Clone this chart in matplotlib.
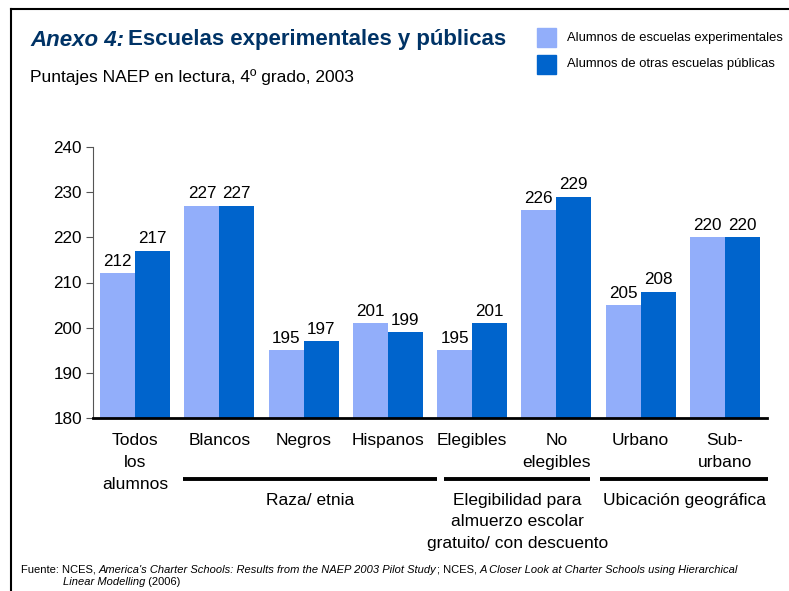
import matplotlib
matplotlib.use("Agg")
import matplotlib.pyplot as plt
from matplotlib.transforms import blended_transform_factory
from matplotlib.patches import Rectangle
from matplotlib.lines import Line2D

plt.rcParams['font.family'] = ['Liberation Sans', 'DejaVu Sans']

categories = ["Todos\nlos\nalumnos", "Blancos", "Negros", "Hispanos",
              "Elegibles", "No\nelegibles", "Urbano", "Sub-\nurbano"]
charter = [212, 227, 195, 201, 195, 226, 205, 220]
public = [217, 227, 197, 199, 201, 229, 208, 220]
series_names = ["Alumnos de escuelas experimentales", "Alumnos de otras escuelas públicas"]
groups = ["Raza/ etnia", "Elegibilidad para\nalmuerzo escolar\ngratuito/ con descuento", "Ubicación geográfica"]
group_spans = [(0.57, 3.58), (3.67, 5.40), (5.52, 7.51)]
yticks = [180, 190, 200, 210, 220, 230, 240]

LIGHT = "#92AEFA"
DARK = "#0064CC"
NAVY = "#003366"

W, H = 789, 591
fig = plt.figure(figsize=(W / 100, H / 100), dpi=100)

def fx(px):
    return px / W

def fy(py):
    return 1 - py / H

ax = fig.add_axes([fx(93), fy(418), fx(767) - fx(93), fy(147) - fy(418)])
bw = 0.415
x = list(range(len(categories)))
ax.bar([i - bw / 2 for i in x], charter, width=bw, color=LIGHT, zorder=2)
ax.bar([i + bw / 2 for i in x], public, width=bw, color=DARK, zorder=2)
for i in x:
    ax.text(i - bw / 2, charter[i] + 1.0, str(charter[i]), ha="center", va="bottom", fontsize=12.3)
    ax.text(i + bw / 2, public[i] + 1.0, str(public[i]), ha="center", va="bottom", fontsize=12.3)

ax.set_xlim(-0.5, 7.5)
ax.set_ylim(180, 240)
ax.set_yticks(yticks)
ax.tick_params(axis="y", labelsize=12.3, length=5, width=0.8, color="#555555", pad=3)
ax.set_xticks(x)
ax.set_xticklabels(categories, fontsize=12.5, linespacing=1.58, va="top")
ax.tick_params(axis="x", length=0, pad=11)
for s in ["top", "right"]:
    ax.spines[s].set_visible(False)
ax.spines["left"].set_color("#555555")
ax.spines["left"].set_linewidth(0.8)
ax.spines["bottom"].set_linewidth(2)
ax.spines["bottom"].set_color("black")

tr = blended_transform_factory(ax.transData, ax.transAxes)
ly = (418 - 479) / (418 - 147)
for (a, b), g in zip(group_spans, groups):
    ax.plot([a, b], [ly, ly], color="black", lw=2.8, transform=tr, clip_on=False, solid_capstyle="butt")
    ax.text((a + b) / 2, ly - 0.05, g, transform=tr, ha="center", va="top", fontsize=12.5, linespacing=1.55)

# Title
t1 = fig.text(fx(30), fy(40), "Anexo 4:", fontsize=16.0, fontweight="bold", style="italic", color=NAVY, va="center")
fig.canvas.draw()
r = fig.canvas.get_renderer()

def after(txt):
    bb = txt.get_window_extent(r)
    return bb.x1 / W

fig.text(after(t1) + fx(4), fy(40), "Escuelas experimentales y públicas", fontsize=16.0, fontweight="bold", color=NAVY, va="center")
fig.text(fx(30), fy(77), "Puntajes NAEP en lectura, 4º grado, 2003", fontsize=12.5, va="center")

# Legend
for k, (c, n) in enumerate(zip([LIGHT, DARK], series_names)):
    y0 = 28 + k * 27
    fig.patches.append(Rectangle((fx(537), fy(y0 + 19)), fx(19), fy(0) - fy(19), transform=fig.transFigure, color=c))
    fig.text(fx(567), fy(y0 + 9.5), n, fontsize=9.4, va="center")

# Frame
fig.lines.append(Line2D([fx(11), fx(11)], [fy(9), 0], transform=fig.transFigure, color="black", lw=1.5))
fig.lines.append(Line2D([fx(11), 1], [fy(9), fy(9)], transform=fig.transFigure, color="black", lw=1.5))

# Footer
pieces = [("Fuente: NCES, ", "normal"), ("America's Charter Schools: Results from the NAEP 2003 Pilot Study", "italic"),
          ("; NCES, ", "normal"), ("A Closer Look at Charter Schools using Hierarchical", "italic")]
xpos = fx(21)
for s, st in pieces:
    tt = fig.text(xpos, fy(570), s, fontsize=8.0, style=st, va="center")
    fig.canvas.draw()
    xpos = after(tt)
t2 = fig.text(fx(63), fy(582), "Linear Modelling", fontsize=8.0, style="italic", va="center")
fig.canvas.draw()
fig.text(after(t2), fy(582), " (2006)", fontsize=8.0, va="center")

fig.savefig("out.png", dpi=100)
